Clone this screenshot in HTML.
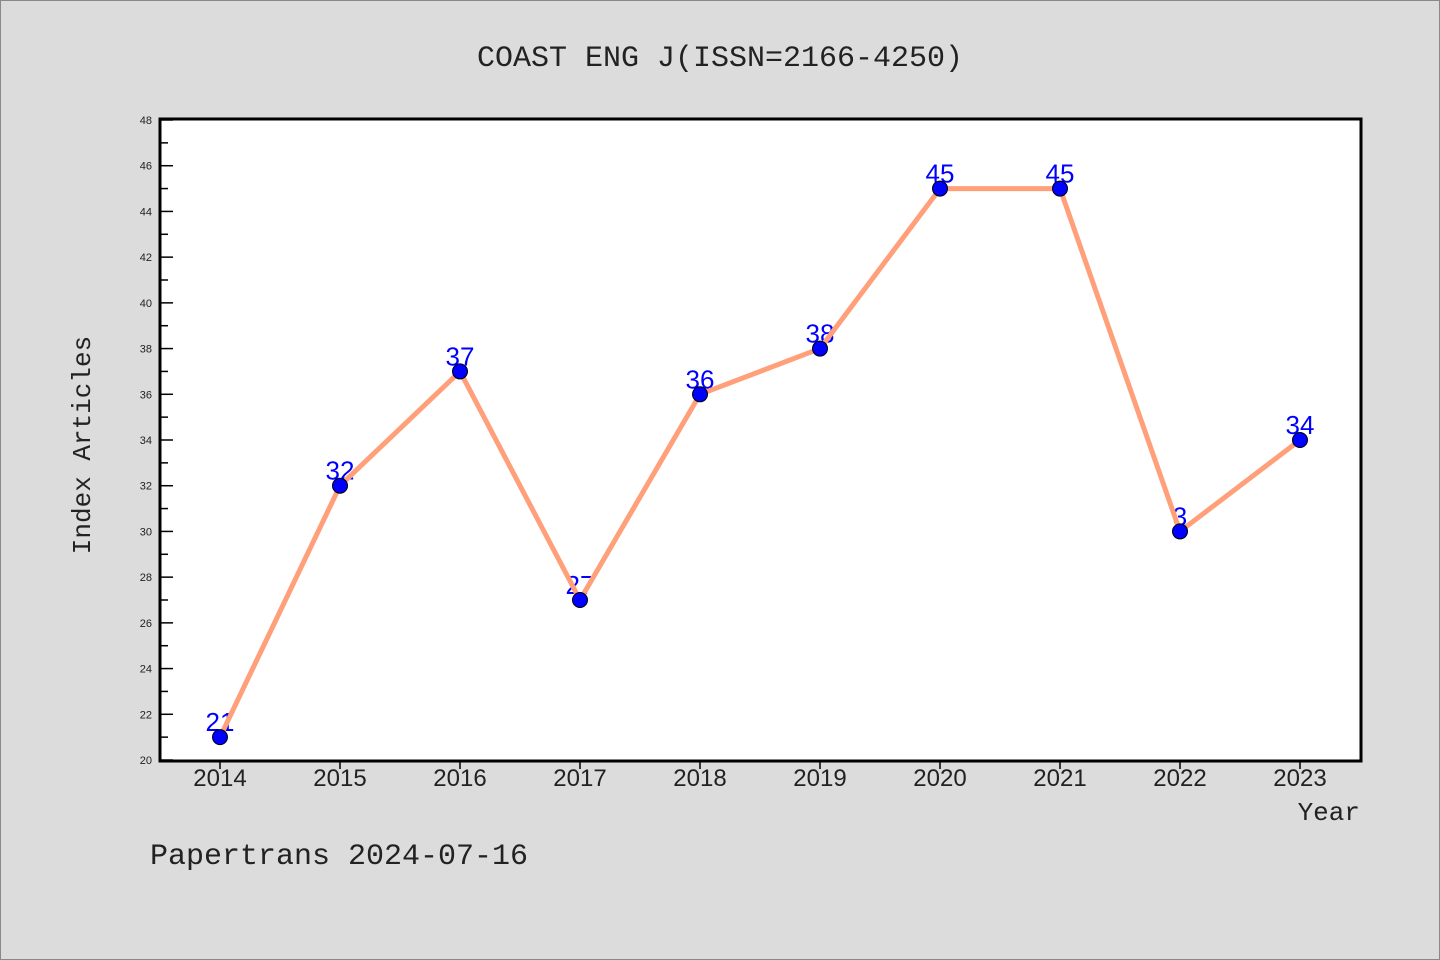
<!DOCTYPE html>
<html><head><meta charset="utf-8"><style>
body{margin:0;background:#dcdcdc;}
svg{display:block;font-family:"Liberation Mono","DejaVu Sans Mono",monospace;}
</style></head><body>
<svg id="chart" width="1440" height="960" xmlns="http://www.w3.org/2000/svg">
<rect x="0.5" y="0.5" width="1439" height="959" fill="#dcdcdc" stroke="#888"/>
<text x="720" y="66" text-anchor="middle" font-size="30" fill="#222">COAST ENG J(ISSN=2166-4250)</text>
<rect x="160" y="119" width="1201" height="642" fill="#fff"/>
<g id="yaxis"></g>
<g id="xaxis"></g>
<g id="labels"></g>
<g id="series"></g>
<rect x="160" y="119" width="1201" height="642" fill="none" stroke="#000" stroke-width="3"/>
<text transform="translate(90,445) rotate(-90)" text-anchor="middle" font-size="26" fill="#222">Index Articles</text>
<text x="1360" y="820" text-anchor="end" font-size="26" fill="#222">Year</text>
<text x="150" y="864" font-size="30" fill="#222">Papertrans 2024-07-16</text>
</svg>
<script>
const categories=["2014","2015","2016","2017","2018","2019","2020","2021","2022","2023"];
const values=[21,32,37,27,36,38,45,45,30,34];
const valueLabels=["21","32","37","27","36","38","45","45","3","34"];
const yTicks=[20,22,24,26,28,30,32,34,36,38,40,42,44,46,48];
const yMin=20,yMax=48;
const NS="http://www.w3.org/2000/svg";
function y(v){return 760-(v-yMin)/(yMax-yMin)*640;}
function x(i){return 220+i*120;}
function mk(t,a,p){const e=document.createElementNS(NS,t);for(const k in a)e.setAttribute(k,a[k]);p.appendChild(e);return e;}
const ya=document.getElementById('yaxis');
for(let v=yMin;v<=yMax;v++){
  const major=(v%2===0);
  const l=mk('line',{x1:160,x2:major?173:168,y1:y(v),y2:y(v),stroke:'#000','stroke-width':1.5},ya);
  
  
}
yTicks.forEach(v=>{
  const t=mk('text',{x:152,y:y(v)+4,'text-anchor':'end','font-size':11,fill:'#222','font-family':'Liberation Sans, sans-serif'},ya);
  t.textContent=v;
  
  
});
const xa=document.getElementById('xaxis');
categories.forEach((c,i)=>{
  const l=mk('line',{x1:x(i),x2:x(i),y1:761,y2:769,stroke:'#000','stroke-width':1.5},xa);
  
  
  const t=mk('text',{x:x(i),y:786,'text-anchor':'middle','font-size':24,fill:'#222','font-family':'Liberation Sans, sans-serif'},xa);
  t.textContent=c;
  
  
});
const lg=document.getElementById('labels');
values.forEach((v,i)=>{
  const t=mk('text',{x:x(i),y:y(v)-6,'text-anchor':'middle','font-size':26,fill:'#0000ff','font-family':'Liberation Sans, sans-serif'},lg);
  t.textContent=valueLabels[i];
  
  
});
const sg=document.getElementById('series');
const pl=mk('polyline',{points:values.map((v,i)=>x(i)+','+y(v)).join(' '),fill:'none',stroke:'#ffa07a','stroke-width':5,'stroke-linejoin':'round'},sg);


values.forEach((v,i)=>{
  const c=mk('circle',{cx:x(i),cy:y(v),r:7.5,fill:'#0000ff',stroke:'#000','stroke-width':1},sg);
  
  
});
</script>
</body></html>
